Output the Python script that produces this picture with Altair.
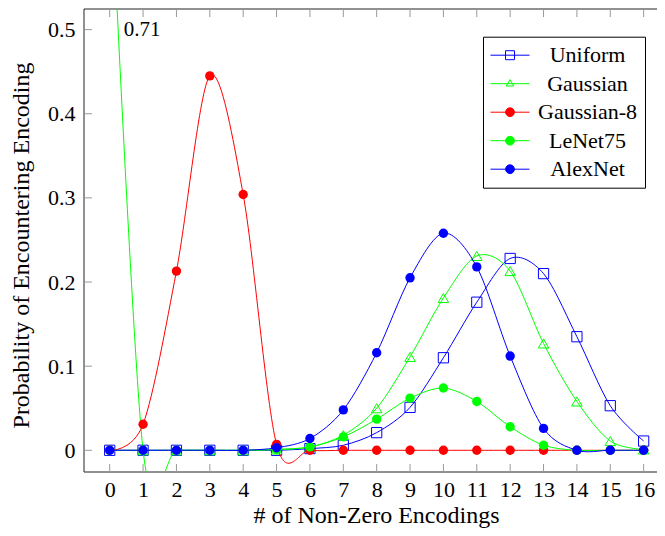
import altair as alt
import pandas as pd

# ---------------- data ----------------
x_vals = list(range(17))
uniform   = [0, 0, 0, 0, 0, 0.000, 0.002, 0.006, 0.021, 0.051, 0.110, 0.176, 0.228, 0.210, 0.135, 0.053, 0.011]
gaussian  = [0.71, 0, 0, 0, 0, 0.001, 0.004, 0.018, 0.050, 0.111, 0.181, 0.231, 0.213, 0.127, 0.058, 0.011, 0.001]
gaussian8 = [0, 0.031, 0.213, 0.445, 0.304, 0.007, 0, 0, 0, 0, 0, 0, 0, 0, 0, 0, 0]
lenet75   = [0, 0, 0, 0, 0, 0.001, 0.004, 0.016, 0.037, 0.062, 0.074, 0.058, 0.028, 0.006, 0, 0, 0]
alexnet   = [0, 0, 0, 0, 0, 0.003, 0.014, 0.048, 0.116, 0.205, 0.258, 0.218, 0.112, 0.026, 0, 0, 0]

series_names = ["Uniform", "Gaussian", "Gaussian-8", "LeNet75", "AlexNet"]
series_values = [uniform, gaussian, gaussian8, lenet75, alexnet]
series_colors = ["#0000ff", "#00ff00", "#ff0000", "#00ff00", "#0000ff"]
series_shapes = ["square", "triangle-up", "circle", "circle", "circle"]

x_ticks = list(range(17))
y_ticks = [0, 0.1, 0.2, 0.3, 0.4, 0.5]

annot_x = [0.42]
annot_y = [0.5]
annot_text = ["0.71"]

# legend symbol paths (line + marker)
legend_paths = [
    "M-2,0H2M-0.46,-0.46H0.46V0.46H-0.46Z",
    "M-2,0H2M0,-0.42L0.38,0.24H-0.38Z",
    "M-2,0H2M0.45,0A0.45,0.45 0 1,1 -0.45,0A0.45,0.45 0 1,1 0.45,0Z",
    "M-2,0H2M0.45,0A0.45,0.45 0 1,1 -0.45,0A0.45,0.45 0 1,1 0.45,0Z",
    "M-2,0H2M0.45,0A0.45,0.45 0 1,1 -0.45,0A0.45,0.45 0 1,1 0.45,0Z",
]
legend_fills = ["transparent", "transparent", "#ff0000", "#00ff00", "#0000ff"]

rows = []
for name, vals in zip(series_names, series_values):
    for xv, yv in zip(x_vals, vals):
        rows.append({"x": xv, "value": yv, "series": name})
df = pd.DataFrame(rows)

W, H = 573, 463
FONT = "Liberation Serif"

x_scale = alt.Scale(domain=[-0.77, 16.40], nice=False, zero=False)
y_scale = alt.Scale(domain=[-0.0258, 0.5245], nice=False, zero=False)

x_axis = alt.Axis(values=x_ticks, format="d", ticks=False, tickSize=0, domain=False, grid=False,
                  labelFont=FONT, labelFontSize=22, labelColor="black", labelPadding=7,
                  title="# of Non-Zero Encodings", titleFont=FONT, titleFontSize=24,
                  titleFontWeight="normal", titleColor="black", titleX=292, titleY=50,
                  titleBaseline="alphabetic", titleAlign="center")
y_axis = alt.Axis(values=y_ticks, format="~g", ticks=False, tickSize=0, domain=False, grid=False,
                  labelFont=FONT, labelFontSize=22, labelColor="black", labelPadding=9,
                  labelAlign="right", labelBaseline="middle",
                  title="Probability of Encountering Encoding", titleFont=FONT, titleFontSize=24,
                  titleFontWeight="normal", titleColor="black", titleX=-56, titleY=236,
                  titleBaseline="alphabetic", titleAlign="center", titleAngle=270)

def X(field="x"):
    return alt.X(f"{field}:Q", scale=x_scale, axis=x_axis)

def Y(field="value"):
    return alt.Y(f"{field}:Q", scale=y_scale, axis=y_axis)

base = alt.Chart(df)
layers = []

# frame (left, top, bottom; the right edge lies outside the picture)
frame_df = pd.DataFrame({"x": [0]})
FRAME = "#222222"
layers.append(alt.Chart(frame_df).mark_rule(color=FRAME, strokeWidth=1).encode(
    x=alt.value(0), y=alt.value(0), y2=alt.value(H)))
layers.append(alt.Chart(frame_df).mark_rule(color=FRAME, strokeWidth=1).encode(
    x=alt.value(0), x2=alt.value(W), y=alt.value(0)))
layers.append(alt.Chart(frame_df).mark_rule(color=FRAME, strokeWidth=1).encode(
    x=alt.value(0), x2=alt.value(W), y=alt.value(H)))

# inward ticks
xt_df = pd.DataFrame({"x": x_ticks})
yt_df = pd.DataFrame({"value": y_ticks})
TK = 8
tick_col = "#999999"
layers.append(alt.Chart(xt_df).mark_rule(color=tick_col, strokeWidth=1).encode(
    x=X(), y=alt.value(H), y2=alt.value(H - TK)))
layers.append(alt.Chart(xt_df).mark_rule(color=tick_col, strokeWidth=1).encode(
    x=X(), y=alt.value(0), y2=alt.value(TK)))
layers.append(alt.Chart(yt_df).mark_rule(color=tick_col, strokeWidth=1).encode(
    y=Y(), x=alt.value(0), x2=alt.value(TK)))

for name, color, shape in zip(series_names, series_colors, series_shapes):
    sub = base.transform_filter(alt.datum.series == name)
    layers.append(sub.mark_line(interpolate="cardinal", tension=0.08, color=color,
                                strokeWidth=1, clip=True).encode(x=X(), y=Y()))
    if shape == "circle":
        pt = sub.mark_point(shape="circle", filled=True, color=color, size=88, opacity=1,
                            strokeWidth=0, clip=True)
    elif shape == "square":
        pt = sub.mark_point(shape="square", filled=False, color=color, size=105, opacity=1,
                            strokeWidth=1, clip=True)
    else:
        pt = sub.mark_point(shape="triangle-up", filled=False, color=color, size=110, opacity=1,
                            strokeWidth=1, clip=True)
    layers.append(pt.encode(x=X(), y=Y()))

# annotation
ann_df = pd.DataFrame({"x": annot_x, "value": annot_y, "label": annot_text})
layers.append(alt.Chart(ann_df).mark_text(align="left", baseline="middle", font=FONT,
                                          fontSize=21, color="black").encode(
    x=X(), y=Y(), text="label:N"))

# legend layer (no visible data)
leg = alt.Legend(title=None, orient="none", legendX=399, legendY=27.7, padding=7.5,
                 rowPadding=6.5, strokeColor="black", fillColor="white",
                 symbolSize=380, symbolStrokeWidth=1, symbolOffset=8.5,
                 labelFont=FONT, labelFontSize=22, labelColor="black",
                 labelAlign="center", labelOffset=66.5, labelLimit=0)
leg_df = pd.DataFrame({"series": series_names})
layers.append(alt.Chart(leg_df).mark_point(filled=False, opacity=1, strokeWidth=1).encode(
    color=alt.Color("series:N", scale=alt.Scale(domain=series_names, range=series_colors), legend=leg),
    fill=alt.Fill("series:N", scale=alt.Scale(domain=series_names, range=legend_fills), legend=leg),
    shape=alt.Shape("series:N", scale=alt.Scale(domain=series_names, range=legend_paths), legend=leg),
).transform_filter("false"))

chart = alt.layer(*layers).properties(
    width=W, height=H,
    padding={"left": 76, "top": 1, "right": 0, "bottom": 56},
    autosize=alt.AutoSizeParams(type="none"),
).configure_view(stroke=None)

chart.save("out.html", embed_options={"renderer": "svg", "actions": False})
